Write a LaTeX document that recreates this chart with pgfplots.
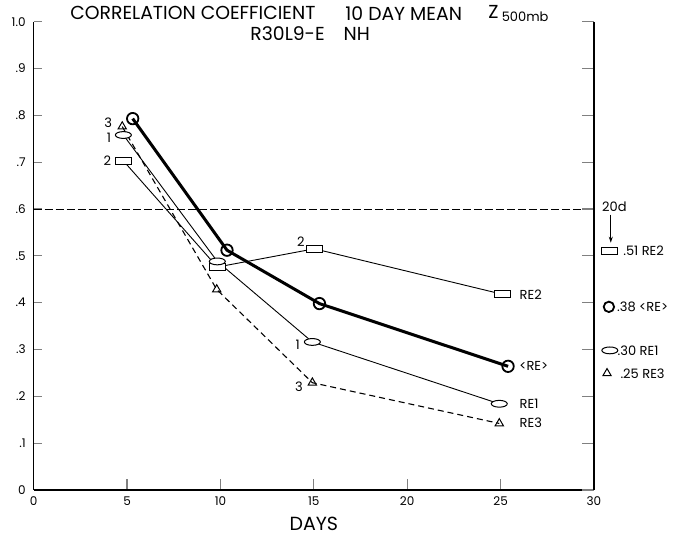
\documentclass[border=0pt]{standalone}
\usepackage{pgfplots}
\pgfplotsset{compat=1.18}
\usetikzlibrary{arrows.meta}
\usepackage{fontspec}
\setmainfont{Poppins}

% open ellipse and flat box marks of the original
\pgfdeclareplotmark{ell}{%
  \pgfpathellipse{\pgfpointorigin}{\pgfqpoint{4pt}{0pt}}{\pgfqpoint{0pt}{1.7pt}}%
  \pgfusepathqfillstroke}
\pgfdeclareplotmark{flatbox}{%
  \pgfpathrectangle{\pgfqpoint{-4pt}{-1.75pt}}{\pgfqpoint{8pt}{3.5pt}}%
  \pgfusepathqfillstroke}

\tikzset{
  lbl/.style={font=\fontsize{6.5}{7}\selectfont, inner sep=0pt},
  ttl/.style={font=\fontsize{9.4}{10}\selectfont, inner sep=0pt},
}

\begin{document}
\begin{tikzpicture}
\begin{axis}[
    scale only axis,
    width=280pt, height=234pt,
    xmin=0, xmax=30, ymin=0, ymax=1,
    axis x line=bottom, axis y line=left,
    axis line style={-, line width=0.6pt},
    xtick={0,5,10,15,20,25,30},
    ytick={0,0.1,0.2,0.3,0.4,0.5,0.6,0.7,0.8,0.9,1.0},
    yticklabels={0,.1,.2,.3,.4,.5,.6,.7,.8,.9,1.0},
    tick align=inside,
    xtick style={line width=0.6pt, /pgfplots/major tick length=5.3pt},
    ytick style={line width=0.6pt, /pgfplots/major tick length=3.9pt},
    xticklabel style={font=\fontsize{6}{7}\selectfont, /pgf/number format/assume math mode=true},
    yticklabel style={font=\fontsize{6}{7}\selectfont, xshift=-0.5pt},
    xlabel={DAYS},
    xlabel style={font=\fontsize{9.5}{10}\selectfont, at={(axis description cs:0.5,0)}, anchor=center, yshift=-17pt},
    clip=false,
]
\coordinate (bl) at (rel axis cs:0,0);
\coordinate (tr) at (rel axis cs:1,1);

% 20-day reference line
\addplot[dash pattern=on 4pt off 1.5pt, line width=0.45pt] coordinates {(0,0.6) (30,0.6)};

% RE3
\addplot[densely dashed, line width=0.55pt, mark=triangle, mark size=2.4pt,
  mark options={solid, fill=white, line width=0.5pt}] coordinates {
  (4.74,0.776) (9.8,0.428) (14.92,0.229) (24.93,0.142)};
% RE2
\addplot[line width=0.45pt, mark=flatbox, mark options={fill=white, line width=0.5pt}] coordinates {
  (4.82,0.702) (9.83,0.476) (15.03,0.515) (25.08,0.418)};
% RE1
\addplot[line width=0.45pt, mark=ell, mark options={fill=white, line width=0.5pt}] coordinates {
  (4.8,0.758) (9.83,0.488) (14.92,0.316) (24.93,0.184)};
% <RE>
\addplot[line width=1.5pt, mark=o, mark size=2.85pt, mark options={fill=white, line width=0.9pt}] coordinates {
  (5.3,0.793) (10.35,0.512) (15.3,0.398) (25.4,0.264)};

% 20-day values at the right
\addplot[only marks, mark=flatbox, mark options={fill=white, line width=0.5pt}] coordinates {(30.85,0.511)};
\addplot[only marks, mark=o, mark size=2.6pt, mark options={fill=white, line width=0.9pt}] coordinates {(30.8,0.391)};
\addplot[only marks, mark=ell, mark options={fill=white, line width=0.5pt}] coordinates {(30.85,0.298)};
\addplot[only marks, mark=triangle, mark size=2.4pt, mark options={fill=white, line width=0.5pt}] coordinates {(30.7,0.249)};

% point numbers
\node[lbl] at (axis cs:3.99,0.784) {3};
\node[lbl] at (axis cs:4.03,0.753) {1};
\node[lbl] at (axis cs:3.94,0.703) {2};
\node[lbl] at (axis cs:14.3,0.53) {2};
\node[lbl] at (axis cs:14.14,0.311) {1};
\node[lbl] at (axis cs:14.2,0.221) {3};

% curve names
\node[lbl, anchor=west] at (axis cs:26.0,0.417) {RE2};
\node[lbl, anchor=west] at (axis cs:25.98,0.264) {<RE>};
\node[lbl, anchor=west] at (axis cs:26.0,0.183) {RE1};
\node[lbl, anchor=west] at (axis cs:26.0,0.1425) {RE3};

% right-hand annotations
\node[lbl, anchor=west] at (axis cs:30.42,0.605) {20d};
\draw[-{Stealth[length=3pt, width=2pt]}, line width=0.5pt] (axis cs:30.9,0.588) -- (axis cs:30.9,0.528);
\node[lbl, anchor=west] at (axis cs:31.55,0.511) {.51 RE2};
\node[lbl, anchor=west] at (axis cs:31.22,0.391) {.38 <RE>};
\node[lbl, anchor=west] at (axis cs:31.25,0.298) {.30 RE1};
\node[lbl, anchor=west] at (axis cs:31.4,0.249) {.25 RE3};

% title
\node[ttl, anchor=west] at (axis cs:1.94,1.0177) {CORRELATION COEFFICIENT};
\node[ttl, anchor=west] at (axis cs:16.67,1.0177) {10 DAY MEAN};
\node[ttl, anchor=west] at (axis cs:24.33,1.0177) {Z\,\raisebox{-1.5pt}{\fontsize{6.5}{7}\selectfont 500mb}};
\node[ttl] at (axis cs:14.8,0.9754) {R30L9-E\quad NH};
\end{axis}

% right axis with its longer ticks
\begin{axis}[
    scale only axis,
    width=280pt, height=234pt,
    xmin=0, xmax=30, ymin=0, ymax=1,
    axis x line=none, axis y line=right,
    axis line style={-, line width=0.6pt},
    ytick={0,0.1,0.2,0.3,0.4,0.5,0.6,0.7,0.8,0.9,1.0},
    yticklabels={},
    tick align=inside,
    ytick style={line width=0.6pt, /pgfplots/major tick length=5.8pt},
]
\end{axis}

\pgfresetboundingbox
\path[use as bounding box] ([shift={(-16.85pt,-22.5pt)}]bl) rectangle ([shift={(41.5pt,10.85pt)}]tr);
\end{tikzpicture}
\end{document}
